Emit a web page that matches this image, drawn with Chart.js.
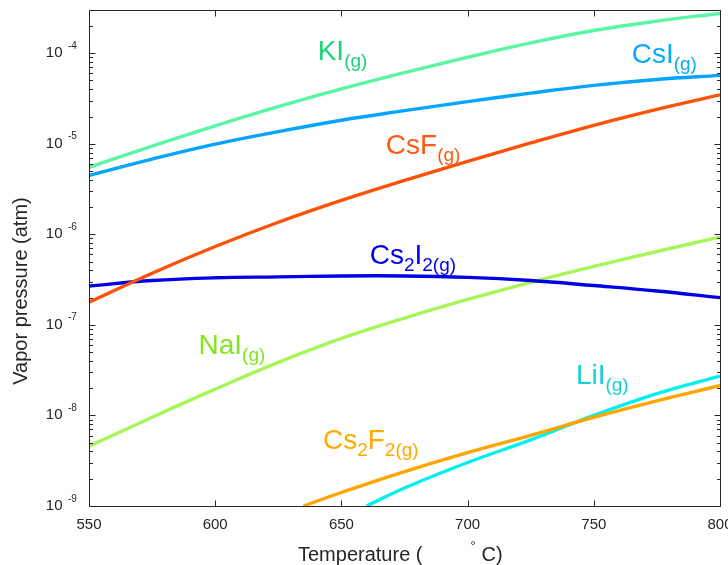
<!DOCTYPE html>
<html>
<head>
<meta charset="utf-8">
<script src="https://cdn.jsdelivr.net/npm/chart.js@4.4.1/dist/chart.umd.min.js"></script>
<style>
  html, body { margin: 0; padding: 0; background: #ffffff; }
  #wrap { width: 728px; height: 565px; }
</style>
</head>
<body>
<div id="wrap"><canvas id="c" width="728" height="565"></canvas></div>
<script>
// Temperatures (°C) at which each vapour pressure is tabulated
const temps = [550, 575, 600, 625, 650, 675, 700, 725, 750, 775, 800];
const tempsCs2F2 = [635, 650, 675, 700, 725, 750, 775, 800];
const tempsLiI = [660, 675, 700, 725, 750, 775, 800];

// Partial pressures of the gaseous species (atm)
const pKI    = [5.50e-6, 9.44e-6, 1.58e-5, 2.57e-5, 4.03e-5, 6.10e-5, 9.02e-5, 1.30e-4, 1.78e-4, 2.26e-4, 2.75e-4];
const pCsI   = [4.47e-6, 6.76e-6, 9.89e-6, 1.36e-5, 1.82e-5, 2.32e-5, 2.92e-5, 3.63e-5, 4.42e-5, 5.13e-5, 5.69e-5];
const pCsF   = [1.78e-7, 3.72e-7, 7.33e-7, 1.36e-6, 2.37e-6, 3.94e-6, 6.38e-6, 1.02e-5, 1.60e-5, 2.40e-5, 3.47e-5];
const pCs2I2 = [2.69e-7, 3.09e-7, 3.31e-7, 3.39e-7, 3.47e-7, 3.47e-7, 3.35e-7, 3.09e-7, 2.72e-7, 2.37e-7, 2.00e-7];
const pNaI   = [4.57e-9, 9.55e-9, 1.95e-8, 3.85e-8, 7.08e-8, 1.19e-7, 1.91e-7, 2.95e-7, 4.42e-7, 6.46e-7, 9.33e-7];
const pCs2F2 = [1.00e-9, 1.41e-9, 2.40e-9, 3.89e-9, 6.03e-9, 9.55e-9, 1.45e-8, 2.14e-8];
const pLiI   = [1.00e-9, 1.58e-9, 3.02e-9, 5.37e-9, 1.00e-8, 1.74e-8, 2.72e-8];

// Axis ticks
const xTicks = [550, 600, 650, 700, 750, 800];
const yDecades = [-9, -8, -7, -6, -5, -4];

const FONT = '"Liberation Sans", Arial, Helvetica, sans-serif';
const AXIS_COLOR = '#262626';

function pts(xs, ys) { return xs.map((x, i) => ({ x: x, y: ys[i] })); }

const series = [
  { name: 'KI',    xs: temps,      ys: pKI,    line: '#5af5a5' },
  { name: 'CsI',   xs: temps,      ys: pCsI,   line: '#05a5ff' },
  { name: 'CsF',   xs: temps,      ys: pCsF,   line: '#ff5208' },
  { name: 'Cs2I2', xs: temps,      ys: pCs2I2, line: '#0000e6' },
  { name: 'NaI',   xs: temps,      ys: pNaI,   line: '#a8f55a' },
  { name: 'Cs2F2', xs: tempsCs2F2, ys: pCs2F2, line: '#ffa500' },
  { name: 'LiI',   xs: tempsLiI,   ys: pLiI,   line: '#00f0f0' }
];

// In-plot species labels: anchor (temperature, pressure) of the left end of the text baseline
const labels = [
  { at: [640.6, 8.43e-5], color: '#1ed27a', parts: [['KI', 0], ['(g)', 1]] },
  { at: [765.0, 7.74e-5], color: '#0aa8ff', parts: [['CsI', 0], ['(g)', 1]] },
  { at: [667.6, 7.66e-6], color: '#ff5a14', parts: [['CsF', 0], ['(g)', 1]] },
  { at: [661.2, 4.71e-7], color: '#0000ee', parts: [['Cs', 0], ['2', 1], ['I', 0], ['2(g)', 1]] },
  { at: [593.4, 4.73e-8], color: '#80e620', parts: [['NaI', 0], ['(g)', 1]] },
  { at: [642.7, 4.23e-9], color: '#ffaa00', parts: [['Cs', 0], ['2', 1], ['F', 0], ['2(g)', 1]] },
  { at: [742.9, 2.22e-8], color: '#14d2d2', parts: [['LiI', 0], ['(g)', 1]] }
];

const decorations = {
  id: 'decorations',
  afterDatasetsDraw(chart) {
    const ctx = chart.ctx;
    const xs = chart.scales.x, ys = chart.scales.y;
    const a = chart.chartArea;
    const L = Math.round(a.left) + 0.5, R = Math.round(a.right) + 0.5;
    const T = Math.round(a.top) + 0.5, B = Math.round(a.bottom) + 0.5;
    ctx.save();

    // species labels
    labels.forEach(lb => {
      let px = xs.getPixelForValue(lb.at[0]);
      const py = ys.getPixelForValue(lb.at[1]);
      ctx.fillStyle = lb.color;
      ctx.textAlign = 'left';
      ctx.textBaseline = 'alphabetic';
      lb.parts.forEach(p => {
        const sub = p[1] === 1;
        ctx.font = (sub ? '19px ' : '28px ') + FONT;
        ctx.fillText(p[0], px, py + (sub ? 7 : 0));
        px += ctx.measureText(p[0]).width;
      });
    });

    // frame
    ctx.strokeStyle = AXIS_COLOR;
    ctx.lineWidth = 1;
    ctx.beginPath();
    ctx.rect(L, T, R - L, B - T);
    ctx.stroke();

    // x ticks (inward, bottom and top)
    ctx.beginPath();
    xTicks.forEach(v => {
      const x = Math.round(xs.getPixelForValue(v)) + 0.5;
      ctx.moveTo(x, B); ctx.lineTo(x, B - 6);
      ctx.moveTo(x, T); ctx.lineTo(x, T + 6);
    });
    // y ticks: decades and minor 2..9
    const yMin = ys.min, yMax = ys.max;
    for (let n = -9; n <= -4; n++) {
      for (let k = 1; k <= 9; k++) {
        const v = k * Math.pow(10, n);
        if (v < yMin * 0.999 || v > yMax * 1.001) continue;
        const y = Math.round(ys.getPixelForValue(v)) + 0.5;
        const len = k === 1 ? 6 : 3.5;
        ctx.moveTo(L, y); ctx.lineTo(L + len, y);
        ctx.moveTo(R, y); ctx.lineTo(R - len, y);
      }
    }
    ctx.stroke();

    // x tick labels
    ctx.fillStyle = AXIS_COLOR;
    ctx.font = '15px ' + FONT;
    ctx.textAlign = 'center';
    ctx.textBaseline = 'alphabetic';
    xTicks.forEach(v => {
      ctx.fillText(String(v), xs.getPixelForValue(v), B + 22);
    });

    // y tick labels: 10 with raised exponent
    yDecades.forEach(n => {
      const y = ys.getPixelForValue(Math.pow(10, n));
      ctx.font = '15px ' + FONT;
      ctx.textAlign = 'right';
      ctx.fillText('10', 62.5, y + 4);
      ctx.font = '10px ' + FONT;
      ctx.textAlign = 'left';
      ctx.fillText(String(n), 68, y - 4.5);
    });

    // x axis title
    ctx.font = '20px ' + FONT;
    ctx.textAlign = 'left';
    ctx.fillText('Temperature (', 298, 561);
    ctx.font = '13px ' + FONT;
    ctx.fillText('°', 470.5, 550);
    ctx.font = '20px ' + FONT;
    ctx.fillText('C)', 481.5, 561);

    // y axis title
    ctx.translate(27, 291);
    ctx.rotate(-Math.PI / 2);
    ctx.textAlign = 'center';
    ctx.font = '20px ' + FONT;
    ctx.fillText('Vapor pressure (atm)', 0, 0);
    ctx.restore();
  }
};

new Chart(document.getElementById('c'), {
  type: 'line',
  data: {
    datasets: series.map(s => ({
      label: s.name,
      data: pts(s.xs, s.ys),
      borderColor: s.line,
      backgroundColor: s.line,
      borderWidth: 3.4,
      pointRadius: 0,
      fill: false,
      tension: 0.4
    }))
  },
  options: {
    responsive: false,
    devicePixelRatio: 1,
    animation: false,
    layout: { padding: { left: 89, right: 8, top: 10, bottom: 59 } },
    plugins: { legend: { display: false }, tooltip: { enabled: false } },
    scales: {
      x: { type: 'linear', min: 550, max: 800, display: false },
      y: { type: 'logarithmic', min: 1e-9, max: 3e-4, display: false }
    }
  },
  plugins: [decorations]
});
</script>
</body>
</html>
